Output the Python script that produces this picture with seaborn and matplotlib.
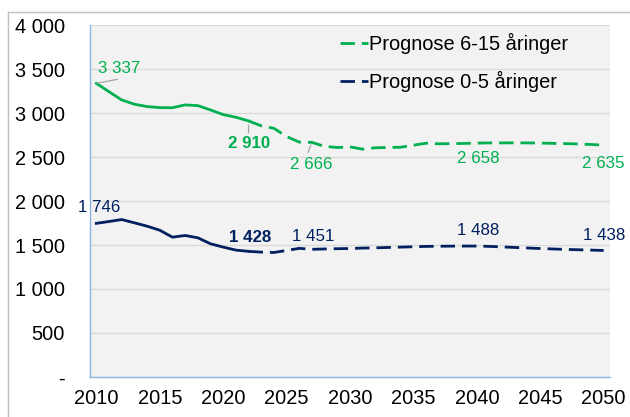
import numpy as np
import pandas as pd
import matplotlib
matplotlib.use("Agg")
import matplotlib.pyplot as plt
from matplotlib.lines import Line2D
import seaborn as sns

# --- data -------------------------------------------------------------
years = list(range(2010, 2051))
last_actual_year = 2022

pupils_6_15 = [3337, 3242, 3148, 3100, 3073, 3061, 3060, 3092, 3084, 3035,
               2982, 2952, 2910, 2854, 2826, 2733, 2669, 2666, 2620, 2608,
               2615, 2589, 2605, 2608, 2611, 2634, 2657, 2650, 2652, 2654,
               2658, 2660, 2660, 2661, 2660, 2658, 2655, 2652, 2648, 2642,
               2635]
children_0_5 = [1746, 1767, 1789, 1752, 1714, 1668, 1589, 1608, 1582, 1514,
                1476, 1442, 1428, 1419, 1415, 1438, 1462, 1451, 1455, 1458,
                1460, 1465, 1468, 1472, 1476, 1480, 1484, 1486, 1487, 1488,
                1488, 1484, 1478, 1472, 1466, 1460, 1455, 1450, 1446, 1442,
                1438]

legend_labels = ["Prognose 6-15 åringer", "Prognose 0-5 åringer"]
label_years = [2010, 2022, 2027, 2040, 2050]
bold_years = [2022]

y_ticks = [0, 500, 1000, 1500, 2000, 2500, 3000, 3500, 4000]
y_tick_labels = ["-", "500", "1 000", "1 500", "2 000", "2 500", "3 000",
                 "3 500", "4 000"]
x_ticks = [2010, 2015, 2020, 2025, 2030, 2035, 2040, 2045, 2050]

GREEN = "#00B050"
NAVY = "#002060"

df = pd.DataFrame({"year": years, "6-15": pupils_6_15, "0-5": children_0_5})
hist = df[df["year"] <= last_actual_year]
fcst = df[df["year"] >= last_actual_year]

# --- figure -----------------------------------------------------------
W, H = 630, 417
fig = plt.figure(figsize=(W / 100, H / 100), dpi=100)
plt.rcParams["font.family"] = ["Liberation Sans", "DejaVu Sans"]

px_l, px_r, px_t, px_b = 90, 610, 25, 377
ax = fig.add_axes([px_l / W, (H - px_b) / H, (px_r - px_l) / W, (px_b - px_t) / H])
ax.set_facecolor("#F2F2F2")

dash = (0, (5.2, 2.5))
lw = 2.0
for col, color in [("6-15", GREEN), ("0-5", NAVY)]:
    sns.lineplot(data=hist, x="year", y=col, ax=ax, color=color, lw=lw,
                 legend=False, zorder=3)
    sns.lineplot(data=fcst, x="year", y=col, ax=ax, color=color, lw=lw,
                 linestyle=dash, legend=False, zorder=3)

ax.set_xlim(2009.5, 2050.5)
ax.set_ylim(0, 4000)
ax.set_xlabel("")
ax.set_ylabel("")

ax.set_yticks(y_ticks)
ax.set_yticklabels(y_tick_labels)
ax.set_xticks(x_ticks)
ax.set_xticklabels([str(x) for x in x_ticks])
ax.tick_params(axis="y", length=0, pad=18, labelsize=14.4, colors="black")
ax.tick_params(axis="x", length=0, pad=9, labelsize=14.4, colors="black")

ax.grid(axis="y", color="#D9D9D9", lw=0.9, zorder=0)
ax.grid(axis="x", visible=False)
ax.set_axisbelow(True)
for side in ["top", "right"]:
    ax.spines[side].set_visible(False)
for side in ["left", "bottom"]:
    ax.spines[side].set_color("#8EB4E3")
    ax.spines[side].set_linewidth(1.0)

# --- data labels ------------------------------------------------------
# offsets in pixels from the data point to the label centre
g_offsets = {2010: (23, 15), 2022: (1, -23), 2027: (-1, -22), 2040: (1, -15), 2050: (0, -18)}
b_offsets = {2010: (3, 16), 2022: (2, 14), 2027: (1, 13), 2040: (1, 16), 2050: (0, 15)}

def fmt(v):
    return f"{v:,}".replace(",", " ")

for series, color, offs in [(pupils_6_15, GREEN, g_offsets), (children_0_5, NAVY, b_offsets)]:
    for yr in label_years:
        v = series[years.index(yr)]
        ax.annotate(fmt(v), xy=(yr, v), xytext=offs[yr], textcoords="offset pixels",
                    ha="center", va="center", color=color, fontsize=12.2,
                    fontweight="bold" if yr in bold_years else "normal", zorder=5)

# leader lines for the green labels
leaders = {2010: ((1, 0), (21, 4)), 2022: ((0, -3), (0, -12)), 2027: ((-2, -1), (-4, -10))}
for yr, (p0, p1) in leaders.items():
    v = pupils_6_15[years.index(yr)]
    ax.annotate("", xy=(yr, v), xytext=p1, textcoords="offset pixels",
                arrowprops=dict(arrowstyle="-", color="#A6A6A6", lw=0.9,
                                shrinkA=0, shrinkB=abs(p0[1]) + abs(p0[0]) * 0.5))

# --- legend -----------------------------------------------------------
handles = [Line2D([], [], color=GREEN, lw=lw, linestyle=dash),
           Line2D([], [], color=NAVY, lw=lw, linestyle=dash)]
ax.legend(handles, legend_labels, loc="upper left",
          bbox_to_anchor=((340 - px_l) / (px_r - px_l), 1 - (33 - px_t) / (px_b - px_t)),
          frameon=False, fontsize=14.4, handlelength=1.4, handletextpad=0.05,
          labelspacing=0.85, borderpad=0, borderaxespad=0)

# outer chart border (top and left edges)
fig.add_artist(Line2D([8 / W, 1], [1 - 12 / H, 1 - 12 / H], color="#BFBFBF", lw=1,
                      transform=fig.transFigure))
fig.add_artist(Line2D([8 / W, 8 / W], [0, 1 - 12 / H], color="#BFBFBF", lw=1,
                      transform=fig.transFigure))

fig.savefig("out.png", dpi=100, facecolor="white")
